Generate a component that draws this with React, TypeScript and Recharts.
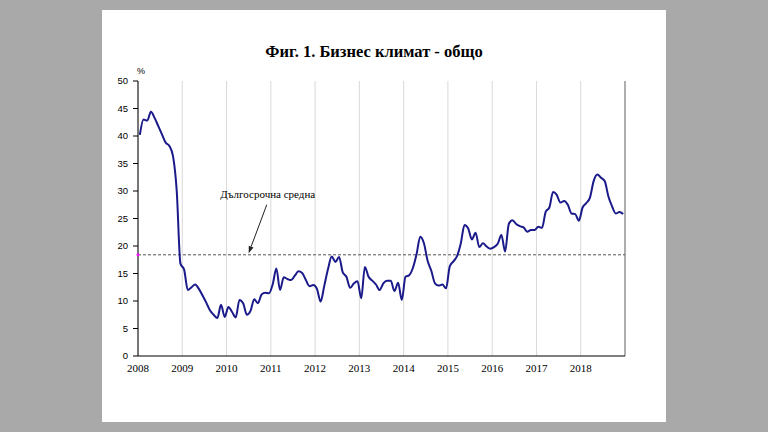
import React from "react";
import {
  LineChart,
  Line,
  XAxis,
  YAxis,
  CartesianGrid,
  ReferenceLine,
  ReferenceDot,
} from "recharts";

const years = ["2008", "2009", "2010", "2011", "2012", "2013", "2014", "2015", "2016", "2017", "2018"];
const yTicks = [0, 5, 10, 15, 20, 25, 30, 35, 40, 45, 50];

const businessClimate = [
  40.2, 43.0, 42.8, 44.4, 43.3, 41.8, 40.3, 38.8, 38.2, 36.3, 30.0, 16.8,
  15.7, 12.0, 12.5, 13.0, 12.2, 11.0, 9.7, 8.3, 7.5, 6.9, 9.3, 7.1,
  8.9, 8.0, 7.0, 10.2, 9.6, 7.5, 8.2, 10.3, 9.6, 11.2, 11.5, 11.4,
  13.0, 15.9, 12.0, 14.3, 14.0, 13.8, 14.6, 15.4, 15.1, 13.8, 12.7, 12.9,
  12.2, 9.9, 12.8, 15.8, 18.1, 17.1, 18.0, 15.2, 14.4, 12.4, 13.2, 13.6,
  10.5, 16.2, 14.4, 13.7, 13.0, 12.0, 13.2, 13.7, 13.7, 11.8, 13.3, 10.2,
  14.4, 14.7, 16.0, 18.5, 21.7, 20.5, 17.3, 15.5, 13.2, 12.8, 13.0, 12.3,
  16.3, 17.2, 18.2, 20.5, 23.8, 23.2, 21.2, 22.4, 19.8, 20.5, 19.9, 19.5,
  19.8, 20.4, 22.0, 19.0, 24.0, 24.7, 24.0, 23.6, 23.4, 22.6, 22.9, 22.9,
  23.5, 23.3, 26.2, 27.0, 29.8, 29.3, 27.9, 28.2, 27.5, 25.9, 25.8, 24.6,
  27.0, 27.8, 28.8, 31.8, 33.0, 32.4, 31.8, 29.0, 27.2, 25.9, 26.2, 25.8,
];

const longTermAverage = 18.4;
const annotationText = "Дългосрочна средна";
const arrowFrom = { x: 34.9, y: 27.5 };
const arrowTo = { x: 30.0, y: 18.7 };

const data = businessClimate.map((v, i) => ({ m: i + 0.5, v }));
const xTicks = years.map((_, i) => i * 12);

const serif = "'Liberation Serif', 'Times New Roman', serif";
const sans = "'Liberation Sans', Arial, sans-serif";

const ArrowShape = (props: any) => {
  const { x1, y1, x2, y2 } = props;
  if ([x1, y1, x2, y2].some((v) => typeof v !== "number" || isNaN(v))) return null;
  const ang = Math.atan2(y2 - y1, x2 - x1);
  const len = 7;
  const w = 2.5;
  const bx = x2 - len * Math.cos(ang);
  const by = y2 - len * Math.sin(ang);
  const px = -Math.sin(ang) * w;
  const py = Math.cos(ang) * w;
  return (
    <g>
      <line x1={x1} y1={y1} x2={bx} y2={by} stroke="#222" strokeWidth={1} />
      <polygon
        points={`${x2},${y2} ${bx + px},${by + py} ${bx - px},${by - py}`}
        fill="#222"
      />
      <text
        x={x1 + 1}
        y={y1 - 7}
        textAnchor="middle"
        fontFamily={serif}
        fontSize={11}
        fill="#000"
      >
        {annotationText}
      </text>
    </g>
  );
};

export default function App() {
  return (
    <div
      style={{
        position: "absolute",
        left: 0,
        top: 0,
        width: 768,
        height: 432,
        background: "#a9a9a9",
        overflow: "hidden",
      }}
    >
      <div
        style={{
          position: "absolute",
          left: 102,
          top: 10,
          width: 564,
          height: 412,
          background: "#ffffff",
        }}
      >
        <div
          style={{
            position: "absolute",
            left: 0,
            top: 32,
            width: 544,
            textAlign: "center",
            fontFamily: serif,
            fontWeight: "bold",
            fontSize: 16.5,
            color: "#000",
          }}
        >
          Фиг. 1. Бизнес климат - общо
        </div>
        <div
          style={{
            position: "absolute",
            left: 35,
            top: 56,
            fontFamily: sans,
            fontSize: 9,
            color: "#000",
          }}
        >
          %
        </div>
        <LineChart
          width={564}
          height={412}
          data={data}
          margin={{ top: 71, right: 41, bottom: 46, left: 6 }}
        >
          <CartesianGrid horizontal={false} stroke="#d9d9d9" />
          <XAxis
            dataKey="m"
            type="number"
            domain={[0, 132]}
            ticks={xTicks}
            tickFormatter={(v: number) => years[Math.round(v / 12)] ?? ""}
            interval={0}
            height={20}
            tickLine={false}
            tickSize={0}
            tickMargin={8}
            axisLine={{ stroke: "#000", strokeWidth: 1 }}
            tick={{ fontFamily: serif, fontSize: 11, fill: "#000" }}
          />
          <YAxis
            type="number"
            domain={[0, 50]}
            ticks={yTicks}
            interval={0}
            width={30}
            tickSize={5}
            tickMargin={5}
            tickLine={{ stroke: "#000" }}
            axisLine={{ stroke: "#000", strokeWidth: 1 }}
            tick={{ fontFamily: sans, fontSize: 9.5, fill: "#000" }}
          />
          <ReferenceLine x={132} stroke="#9a9a9a" strokeWidth={1.5} />
          <ReferenceLine
            y={longTermAverage}
            stroke="#555"
            strokeDasharray="3 2"
            strokeWidth={1}
          />
          <ReferenceDot
            x={0}
            y={longTermAverage}
            r={1.5}
            fill="#ff00ff"
            stroke="none"
            ifOverflow="visible"
          />
          <ReferenceLine
            segment={[arrowFrom, arrowTo]}
            shape={ArrowShape}
            ifOverflow="visible"
          />
          <Line
            type="monotone"
            dataKey="v"
            stroke="#1a1a8a"
            strokeWidth={2}
            dot={false}
            isAnimationActive={false}
          />
        </LineChart>
      </div>
    </div>
  );
}
